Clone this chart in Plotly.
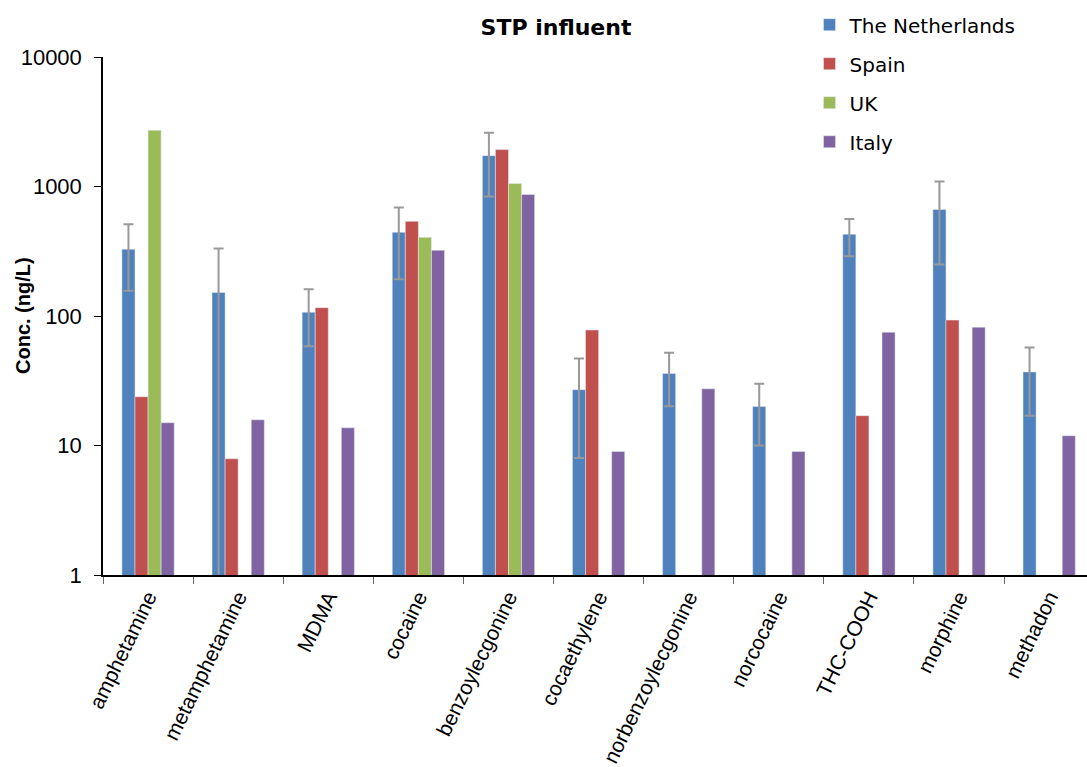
import plotly.graph_objects as go

# Drug residues in sewage treatment plant influent (ng/L), per country
compounds = ["amphetamine", "metamphetamine", "MDMA", "cocaine", "benzoylecgonine",
             "cocaethylene", "norbenzoylecgonine", "norcocaine", "THC-COOH",
             "morphine", "methadon"]

netherlands = [328, 152, 107, 443, 1730, 27, 36, 20, 428, 665, 37]
nl_upper = [510, 332, 161, 689, 2600, 47, 52, 30, 561, 1092, 57]
nl_lower = [157, 0.3, 58.5, 192, 838, 8.0, 20.1, 10.0, 289, 250, 17]

spain = [23.8, 7.9, 116, 538, 1927, 78, None, None, 17, 93, None]
uk = [2718, None, None, 405, 1055, None, None, None, None, None, None]
italy = [15.0, 15.8, 13.7, 322, 867, 9.0, 27.4, 9.0, 75, 82, 11.9]

y_ticks = [1, 10, 100, 1000, 10000]

colors = {"The Netherlands": "#4F81BD", "Spain": "#C0504D",
          "UK": "#9BBB59", "Italy": "#8064A2"}

err_plus = [u - v for u, v in zip(nl_upper, netherlands)]
err_minus = [v - l for v, l in zip(netherlands, nl_lower)]

fig = go.Figure()
fig.add_trace(go.Bar(
    name="The Netherlands", x=compounds, y=netherlands,
    marker_color=colors["The Netherlands"], legendgroup="nl",
    error_y=dict(type="data", symmetric=False, array=err_plus,
                 arrayminus=err_minus, color="#999999", thickness=2, width=5),
))
for name, vals, grp in [("Spain", spain, "es"), ("UK", uk, "uk"), ("Italy", italy, "it")]:
    fig.add_trace(go.Bar(name=name, x=compounds, y=vals,
                         marker_color=colors[name], legendgroup=grp))

fig.update_layout(
    width=1087, height=767,
    margin=dict(l=103, r=0, t=57, b=188),
    paper_bgcolor="white", plot_bgcolor="white",
    barmode="group", bargap=0.42, bargroupgap=0,
    title=dict(text="<b>STP influent</b>", x=556 / 1087, xanchor="center",
               y=1 - 27 / 767, yanchor="middle",
               font=dict(family="DejaVu Sans", size=22, color="black")),
    legend=dict(x=0.718, xanchor="left", y=1.10, yanchor="top",
                font=dict(family="DejaVu Sans", size=20, color="black"),
                tracegroupgap=10, bgcolor="rgba(0,0,0,0)"),
    font=dict(family="Liberation Sans", color="black"),
)

fig.update_xaxes(
    type="category", range=[-0.5, 10.42],
    showline=True, linecolor="black", linewidth=1.5,
    ticks="outside", tickson="boundaries", ticklen=7, tickcolor="#666666",
    tickangle=-64, tickfont=dict(family="Liberation Sans", size=21, color="black"),
    showgrid=False, zeroline=False,
)
fig.update_yaxes(
    type="log", range=[0, 4],
    tickvals=y_ticks, ticktext=[str(v) for v in y_ticks],
    showline=True, linecolor="black", linewidth=1.5,
    ticks="outside", ticklen=7, tickcolor="black",
    tickfont=dict(family="Liberation Sans", size=22, color="black"),
    ticklabelstandoff=8,
    showgrid=False, zeroline=False,
)

fig.add_annotation(
    text="<b>Conc. (ng/L)</b>", textangle=-90,
    xref="paper", yref="paper", x=(23 - 103) / 984, y=0.5,
    xanchor="center", yanchor="middle", showarrow=False,
    font=dict(family="Liberation Sans", size=20, color="black"),
)

fig.write_html("out.html")
